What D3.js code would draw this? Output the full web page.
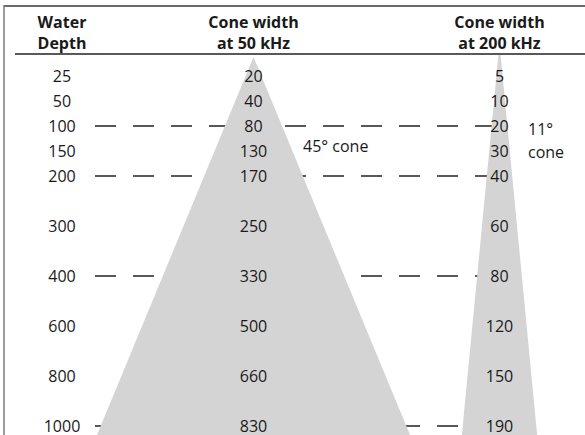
<!DOCTYPE html>
<html>
<head>
<meta charset="utf-8">
<script src="https://cdn.jsdelivr.net/npm/d3@7"></script>
<style>
    body { margin: 0; background: #fff; }
    text { font-family: 'Open Sans', sans-serif; fill: #1a1a1a; }
</style>
</head>
<body>
<svg id="chart"></svg>
<script>
var depths = [25, 50, 100, 150, 200, 300, 400, 600, 800, 1000];
var width50 = [20, 40, 80, 130, 170, 250, 330, 500, 660, 830];
var width200 = [5, 10, 20, 30, 40, 60, 80, 120, 150, 190];
var dashedDepths = [100, 200, 400, 1000];
var columns = ['depth', 'w50', 'w200'];
var headers = [['Water', 'Depth'], ['Cone width', 'at 50 kHz'], ['Cone width', 'at 200 kHz']];
var coneAngles = [45, 11];
var coneLabels = [['45° cone'], ['11°', 'cone']];

var WIDTH = 585,
    HEIGHT = 435,
    HEADLINE = 54,
    APEX = 57;

var svg = d3.select('#chart')
    .attr('width', WIDTH)
    .attr('height', HEIGHT);

// rows 300 and deeper sit on every second slot
function slotOf(i) {
    return i < 5 ? i : 2 * i - 4;
}

var x = d3.scaleOrdinal()
    .domain(columns)
    .range([62, 253.5, 499.5]);

var y = d3.scaleLinear()
    .domain([0, 14])
    .range([76, 426]);

// frame
svg.append('line')
    .attr('x1', 4).attr('x2', WIDTH)
    .attr('y1', 6).attr('y2', 6)
    .style('stroke', '#6a6a6a')
    .style('stroke-width', 2);
svg.append('line')
    .attr('x1', 4).attr('x2', 4)
    .attr('y1', 5).attr('y2', HEIGHT)
    .style('stroke', '#7a7a7a')
    .style('stroke-width', 1.5);

// dashed guide lines
svg.selectAll('line.guide')
    .data(dashedDepths)
    .enter()
    .append('line')
    .attr('class', 'guide')
    .attr('x1', 95)
    .attr('x2', x('w200'))
    .attr('y1', function (d) { return y(slotOf(depths.indexOf(d))); })
    .attr('y2', function (d) { return y(slotOf(depths.indexOf(d))); })
    .style('stroke', '#222')
    .style('stroke-width', 1.3)
    .style('stroke-dasharray', '21,17');

// cones
svg.append('clipPath')
    .attr('id', 'body-clip')
    .append('rect')
    .attr('x', 0).attr('y', HEADLINE + 1)
    .attr('width', WIDTH).attr('height', HEIGHT - HEADLINE);

svg.selectAll('path.cone')
    .data(coneAngles)
    .enter()
    .append('path')
    .attr('class', 'cone')
    .attr('clip-path', 'url(#body-clip)')
    .attr('d', function (d, i) {
        var cx = x(columns[i + 1]);
        var t = Math.tan(d / 2 * Math.PI / 180);
        var top = i === 0 ? APEX : HEADLINE - 10;
        var bottom = HEIGHT + 10;
        var hw = (bottom - top) * t;
        return 'M' + cx + ',' + top +
            'L' + (cx + hw) + ',' + bottom +
            'L' + (cx - hw) + ',' + bottom + 'Z';
    })
    .style('fill', '#d4d4d4');

// header
var head = svg.selectAll('text.head')
    .data(headers)
    .enter()
    .append('text')
    .attr('class', 'head')
    .attr('text-anchor', 'middle')
    .style('font-size', '16px')
    .style('font-weight', 'bold');
head.selectAll('tspan')
    .data(function (d, i) {
        return d.map(function (s) { return { s: s, col: columns[i] }; });
    })
    .enter()
    .append('tspan')
    .attr('x', function (d) { return x(d.col); })
    .attr('y', function (d, j) { return 28 + j * 21; })
    .text(function (d) { return d.s; });

svg.append('line')
    .attr('x1', 15).attr('x2', WIDTH)
    .attr('y1', HEADLINE).attr('y2', HEADLINE)
    .style('stroke', '#222')
    .style('stroke-width', 1.5);

// table values
var series = [depths, width50, width200];
series.forEach(function (vals, c) {
    svg.selectAll('text.col' + c)
        .data(vals)
        .enter()
        .append('text')
        .attr('class', 'col' + c)
        .attr('text-anchor', 'middle')
        .attr('x', x(columns[c]))
        .attr('y', function (d, i) { return y(slotOf(i)); })
        .attr('dy', '0.36em')
        .style('font-size', '16px')
        .text(function (d) { return d; });
});

// cone labels
var labelPos = [[303, 146], [528, 129]];
coneLabels.forEach(function (lines, i) {
    svg.append('text')
        .style('font-size', '16px')
        .selectAll('tspan')
        .data(lines)
        .enter()
        .append('tspan')
        .attr('x', labelPos[i][0])
        .attr('y', function (d, j) { return labelPos[i][1] + j * 23; })
        .attr('dy', '0.36em')
        .text(function (d) { return d; });
});
</script>
</body>
</html>
